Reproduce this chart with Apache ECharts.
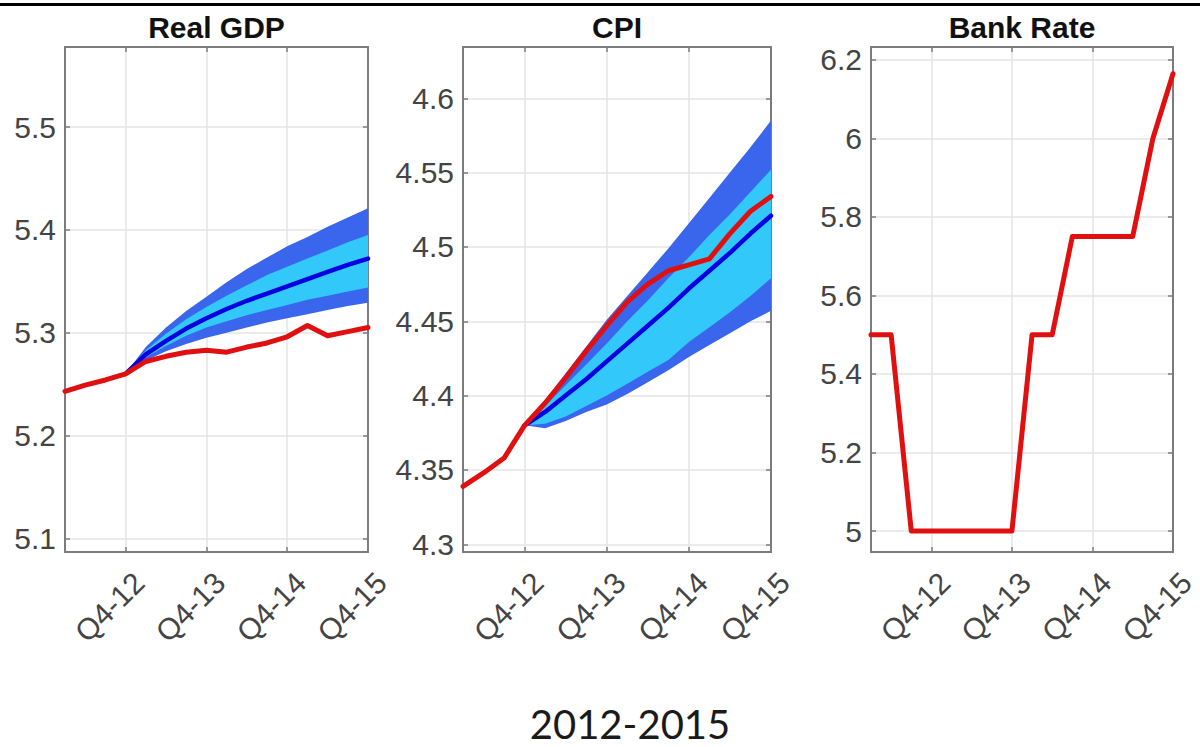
<!DOCTYPE html>
<html>
<head>
<meta charset="utf-8">
<script src="https://cdn.jsdelivr.net/npm/echarts@6/dist/echarts.min.js"></script>
<style>
  html, body { margin: 0; padding: 0; background: #ffffff; }
  #chart { width: 1200px; height: 747px; }
</style>
</head>
<body>
<div id="chart"></div>
<script>
// Quarterly time axis shared by all three panels
const quarters = ['Q1-12','Q2-12','Q3-12','Q4-12','Q1-13','Q2-13','Q3-13','Q4-13',
                  'Q1-14','Q2-14','Q3-14','Q4-14','Q1-15','Q2-15','Q3-15','Q4-15'];

// Real GDP (log level): outturn and forecast fan from Q4-12
const gdpOutturn = [5.243, 5.249, 5.254, 5.260, 5.272, 5.277, 5.281, 5.283, 5.281, 5.286, 5.290, 5.296, 5.307, 5.297, 5.301, 5.305];
const gdpMedian  = [null, null, null, 5.260, 5.279, 5.292, 5.304, 5.314, 5.323, 5.331, 5.338, 5.345, 5.352, 5.359, 5.366, 5.372];
const gdpOuterHi = [null, null, null, 5.260, 5.286, 5.305, 5.321, 5.335, 5.349, 5.362, 5.373, 5.384, 5.393, 5.403, 5.412, 5.421];
const gdpOuterLo = [null, null, null, 5.260, 5.273, 5.282, 5.289, 5.295, 5.300, 5.305, 5.310, 5.314, 5.318, 5.322, 5.326, 5.329];
const gdpInnerHi = [null, null, null, 5.260, 5.283, 5.299, 5.313, 5.325, 5.336, 5.346, 5.356, 5.364, 5.372, 5.380, 5.388, 5.395];
const gdpInnerLo = [null, null, null, 5.260, 5.276, 5.287, 5.297, 5.305, 5.311, 5.317, 5.322, 5.327, 5.332, 5.336, 5.340, 5.344];

// CPI (log level): outturn and forecast fan from Q4-12
const cpiOutturn = [4.339, 4.348, 4.358, 4.380, 4.395, 4.412, 4.430, 4.447, 4.463, 4.475, 4.484, 4.488, 4.492, 4.509, 4.524, 4.534];
const cpiMedian  = [null, null, null, 4.380, 4.389, 4.400, 4.411, 4.423, 4.435, 4.447, 4.459, 4.472, 4.484, 4.496, 4.509, 4.521];
const cpiOuterHi = [null, null, null, 4.380, 4.397, 4.415, 4.433, 4.451, 4.467, 4.483, 4.499, 4.516, 4.533, 4.550, 4.567, 4.585];
const cpiOuterLo = [null, null, null, 4.380, 4.378, 4.383, 4.389, 4.394, 4.401, 4.409, 4.417, 4.426, 4.434, 4.442, 4.450, 4.457];
const cpiInnerHi = [null, null, null, 4.380, 4.393, 4.407, 4.421, 4.435, 4.450, 4.464, 4.479, 4.493, 4.508, 4.522, 4.537, 4.552];
const cpiInnerLo = [null, null, null, 4.380, 4.381, 4.386, 4.393, 4.400, 4.408, 4.416, 4.424, 4.436, 4.446, 4.456, 4.467, 4.479];

// Bank Rate path
const bankRate = [5.5, 5.5, 5.0, 5.0, 5.0, 5.0, 5.0, 5.0, 5.5, 5.5, 5.75, 5.75, 5.75, 5.75, 6.0, 6.165];

// Tick values for each panel's vertical axis
const gdpTicks  = [5.1, 5.2, 5.3, 5.4, 5.5];
const cpiTicks  = [4.3, 4.35, 4.4, 4.45, 4.5, 4.55, 4.6];
const bankTicks = [5, 5.2, 5.4, 5.6, 5.8, 6, 6.2];

const panelTitles = ['Real GDP', 'CPI', 'Bank Rate'];
const footerText = '2012-2015';

// Colours
const RED = '#e01010';
const MEDIAN = '#0000e0';
const OUTER = '#3a66ee';
const INNER = '#33c8fa';
const FRAME = '#7c7c7c';
const GRIDLINE = '#e4e4e4';

const FONT = '"Liberation Sans", Arial, sans-serif';

// Panel layout
const grids = [
  { left: 65,  top: 47, width: 303, height: 505 },
  { left: 463, top: 47, width: 308, height: 505 },
  { left: 871, top: 47, width: 302, height: 505 }
];
const yRanges = [
  { min: 5.0867, max: 5.5778, ticks: gdpTicks },
  { min: 4.2948, max: 4.6345, ticks: cpiTicks },
  { min: 4.9465, max: 6.2331, ticks: bankTicks }
];

const isQ4 = (i, v) => String(v).indexOf('Q4') === 0;

const xAxis = [];
const yAxis = [];
grids.forEach((g, gi) => {
  const xCommon = {
    type: 'category', gridIndex: gi, data: quarters, boundaryGap: false,
    axisLine: { show: true, onZero: false, lineStyle: { color: FRAME, width: 2 } },
    axisTick: { show: true, inside: true, length: 5, interval: isQ4, lineStyle: { color: FRAME, width: 1.5 } }
  };
  xAxis.push(Object.assign({}, xCommon, {
    position: 'bottom',
    axisLabel: {
      show: true, interval: isQ4, rotate: 45, margin: 39, padding: [0, -19, 0, 0],
      fontSize: 30, color: '#444444', fontFamily: FONT
    },
    splitLine: { show: true, interval: isQ4, lineStyle: { color: GRIDLINE, width: 1.5 } }
  }));
  xAxis.push(Object.assign({}, xCommon, {
    position: 'top', axisLabel: { show: false }, splitLine: { show: false }
  }));

  const r = yRanges[gi];
  const yCommon = {
    type: 'value', gridIndex: gi, min: r.min, max: r.max, scale: true,
    axisLine: { show: true, onZero: false, lineStyle: { color: FRAME, width: 2 } },
    axisTick: { show: true, inside: true, length: 5, customValues: r.ticks, lineStyle: { color: FRAME, width: 1.5 } }
  };
  yAxis.push(Object.assign({}, yCommon, {
    position: 'left',
    axisLabel: { show: true, customValues: r.ticks, margin: 9, fontSize: 30, color: '#444444', fontFamily: FONT },
    splitLine: { show: true, lineStyle: { color: GRIDLINE, width: 1.5 } }
  }));
  yAxis.push(Object.assign({}, yCommon, {
    position: 'right', axisLabel: { show: false }, splitLine: { show: false }
  }));
});

// Filled band between two bounds, drawn as one polygon through the axis scales
function band(gi, lo, hi, color, z) {
  const first = hi.findIndex(v => v != null);
  return {
    type: 'custom', xAxisIndex: gi * 2, yAxisIndex: gi * 2, z: z, silent: true,
    data: [[first, lo[first]]],
    renderItem: function (params, api) {
      const upper = [], lower = [];
      for (let i = 0; i < hi.length; i++) {
        if (hi[i] == null) continue;
        upper.push(api.coord([i, hi[i]]));
        lower.unshift(api.coord([i, lo[i]]));
      }
      return { type: 'polygon', shape: { points: upper.concat(lower) }, style: { fill: color } };
    }
  };
}

function line(gi, data, color, width, z) {
  return {
    type: 'line', xAxisIndex: gi * 2, yAxisIndex: gi * 2, data: data, z: z,
    showSymbol: false, symbol: 'none', connectNulls: false, silent: true,
    lineStyle: { color: color, width: width, join: 'round', cap: 'round' }
  };
}

const series = [
  band(0, gdpOuterLo, gdpOuterHi, OUTER, 2),
  band(0, gdpInnerLo, gdpInnerHi, INNER, 3),
  line(0, gdpMedian, MEDIAN, 4.5, 4),
  line(0, gdpOutturn, RED, 5, 5),

  band(1, cpiOuterLo, cpiOuterHi, OUTER, 2),
  band(1, cpiInnerLo, cpiInnerHi, INNER, 3),
  line(1, cpiMedian, MEDIAN, 4.5, 4),
  line(1, cpiOutturn, RED, 5, 5),

  line(2, bankRate, RED, 5, 5)
];

// Panel titles, footer and the rule across the top
const graphic = [
  { type: 'rect', left: 0, top: 3, shape: { width: 1200, height: 3 }, style: { fill: '#000000' } }
];
grids.forEach((g, gi) => {
  graphic.push({
    type: 'text', x: g.left + g.width / 2, y: 27,
    style: { text: panelTitles[gi], align: 'center', verticalAlign: 'middle',
             font: 'bold 30px ' + FONT, fill: '#111111' }
  });
});
graphic.push({
  type: 'text', x: 630, y: 724,
  style: { text: footerText, align: 'center', verticalAlign: 'middle', lineHeight: 40,
           font: '40px Lato, "Open Sans", sans-serif', fill: '#1a1a1a' }
});

const chart = echarts.init(document.getElementById('chart'), null, { renderer: 'svg' });
chart.setOption({
  animation: false,
  backgroundColor: '#ffffff',
  grid: grids.map(g => Object.assign({ containLabel: false }, g)),
  xAxis: xAxis,
  yAxis: yAxis,
  series: series,
  graphic: graphic
});
</script>
</body>
</html>
